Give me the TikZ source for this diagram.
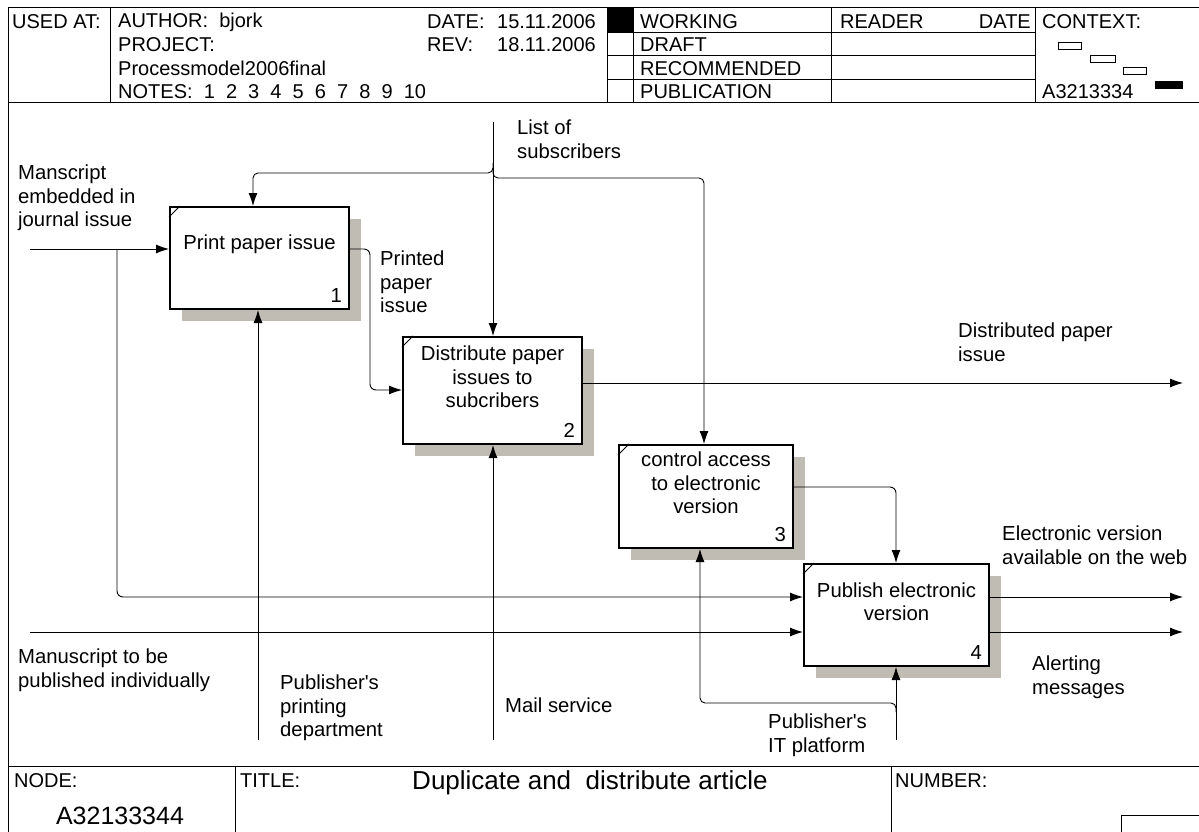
\documentclass[tikz,border=0pt]{standalone}
\usepackage{fontspec}
\setmainfont{Liberation Sans}
\usepackage{tikz}
\usetikzlibrary{positioning, arrows.meta, shadows}

\definecolor{shadowgray}{RGB}{192,188,180}

\begin{document}
\begin{tikzpicture}[
  x=1pt, y=-1pt,
  every node/.style={font=\fontsize{20.3}{23.5}\selectfont, inner sep=0pt},
  activity/.style={
    rectangle, draw, line width=2pt, fill=white,
    anchor=north west,
    drop shadow={shadow xshift=12pt, shadow yshift=-12pt, fill=shadowgray, opacity=1}
  },
  boxtext/.style={align=center},
  boxnum/.style={anchor=south east},
  lbl/.style={align=left, anchor=west},
  hdr/.style={font=\fontsize{20}{24}\selectfont, anchor=west},
  flow/.style={line width=0.9pt, -{Latex[length=13pt,width=9pt]}},
  frame/.style={line width=1pt}
]
\useasboundingbox (0,0) rectangle (1199,832);

% cornice
\draw[frame] (8,840) -- (8,8) -- (1210,8);
\draw[frame] (8,103) -- (1210,103);
\draw[frame] (8,766) -- (1210,766);
\foreach \x in {110,607,633,831,1035} \draw[frame] (\x,8) -- (\x,103);
\foreach \y in {33,56,80} \draw[frame] (607,\y) -- (1035,\y);
\fill (607,8) rectangle (633,33);
\foreach \x in {235,891} \draw[frame] (\x,766) -- (\x,840);
\draw[frame] (1121,840) |- (1210,815);

% intestazione
\node[hdr] (usedat) at (12,22) {USED AT:};
\node[hdr] (author) at (118,22) {AUTHOR:\ \ bjork};
\node[hdr] (project) at (118,45) {PROJECT:};
\node[hdr] (projname) at (118,68.5) {Processmodel2006final};
\node[hdr] (notes) at (118,92) {NOTES:\ \ 1\ \ 2\ \ 3\ \ 4\ \ 5\ \ 6\ \ 7\ \ 8\ \ 9\ \ 10};
\node[hdr] (datelbl) at (427,22) {DATE:};
\node[hdr, anchor=east] (dateval) at (596,22) {15.11.2006};
\node[hdr] (revlbl) at (427,45) {REV:};
\node[hdr, anchor=east] (revval) at (596,45) {18.11.2006};
\node[hdr] (working) at (640,22) {WORKING};
\node[hdr] (draft) at (640,45) {DRAFT};
\node[hdr] (recommended) at (640,68.5) {RECOMMENDED};
\node[hdr] (publication) at (640,92) {PUBLICATION};
\node[hdr] (reader) at (840,22) {READER};
\node[hdr, anchor=east] (readdate) at (1031,22) {DATE};
\node[hdr] (context) at (1042,22) {CONTEXT:};
\node[hdr] (ctxnode) at (1042,92) {A3213334};
\draw[line width=0.8pt] (1058,42) rectangle (1081,49);
\draw[line width=0.8pt] (1090,55) rectangle (1115,62);
\draw[line width=0.8pt] (1123,67) rectangle (1146,74);
\fill (1155,81) rectangle (1183,89);

% attivita
\node[activity, minimum width=179pt, minimum height=102pt] (b1) at (169,206) {};
\node[activity, minimum width=179pt, minimum height=107pt] (b2) at (402,336) {};
\node[activity, minimum width=174pt, minimum height=103pt] (b3) at (618,444) {};
\node[activity, minimum width=185pt, minimum height=102pt] (b4) at (803,563) {};
\foreach \b in {b1,b2,b3,b4}
  \draw[line width=1pt] ([yshift=-11pt]\b.north west) -- ([xshift=11pt]\b.north west);

\node[boxtext] (t1) at ([yshift=13.5pt]b1.center) {Print paper issue};
\node[boxtext] (t2) at ([yshift=13.5pt]b2.center) {Distribute paper\\issues to\\subcribers};
\node[boxtext] (t3) at ([yshift=13.5pt]b3.center) {control access\\to electronic\\version};
\node[boxtext] (t4) at ([yshift=13.5pt]b4.center) {Publish electronic\\version};
\node[boxnum] (n1) at ([xshift=-8pt,yshift=7pt]b1.south east) {1};
\node[boxnum] (n2) at ([xshift=-8pt,yshift=7pt]b2.south east) {2};
\node[boxnum] (n3) at ([xshift=-8pt,yshift=7pt]b3.south east) {3};
\node[boxnum] (n4) at ([xshift=-8pt,yshift=7pt]b4.south east) {4};

% estremi liberi delle frecce
\coordinate (src1) at (30,249);
\coordinate (fork1) at (117,249);
\coordinate (src4) at (30,632);
\coordinate (ctl) at (493,122);
\coordinate (f2) at (493,163);
\coordinate (k1) at (253,173);
\coordinate (f3) at (493,168);
\coordinate (k3) at (704,178);
\coordinate (j12) at (370,390);
\coordinate (k34) at (896,487);
\coordinate (out2) at (1183,383);
\coordinate (out4a) at (1183,597);
\coordinate (out4b) at (1183,632);
\coordinate (m1) at (258,740);
\coordinate (m2) at (493,740);
\coordinate (m4) at (896,740);
\coordinate (f4) at (896,712);
\coordinate (k4) at (700,703);

% frecce
\draw[flow] (src1) -- (src1 -| b1.west);
\draw[flow, rounded corners=6] (fork1) |- ([yshift=-34pt]b4.north west);
\draw[flow] (src4) -- (src4 -| b4.west);
\draw[flow] (ctl) -- (ctl |- b2.north);
\draw[flow, rounded corners=5] (f2) |- (k1) -- (k1 |- b1.north);
\draw[flow, rounded corners=5] (f3) |- (k3) -- (k3 |- b3.north);
\draw[flow, rounded corners=6] (b1.east |- src1) -| (j12) -- (j12 -| b2.west);
\draw[flow, rounded corners=6] (b3.east |- k34) -| (k34 |- b4.north);
\draw[flow] (b2.east |- out2) -- (out2);
\draw[flow] (b4.east |- out4a) -- (out4a);
\draw[flow] (b4.east |- out4b) -- (out4b);
\draw[flow] (m1) -- (m1 |- b1.south);
\draw[flow] (m2) -- (m2 |- b2.south);
\draw[flow] (m4) -- (m4 |- b4.south);
\draw[flow, rounded corners=5] (f4) |- (k4) -- (k4 |- b3.south);

% etichette
\node[lbl] (lin1) at (18,198) {Manscript\\embedded in\\journal issue};
\node[lbl] (lin4) at (18,670) {Manuscript to be\\published individually};
\node[lbl] (lctl) at (517,139) {List of\\subscribers};
\node[lbl] (lprinted) at (380,282) {Printed\\paper\\issue};
\node[lbl] (lout2) at (958,342) {Distributed paper\\issue};
\node[lbl] (lout4a) at (1002,545) {Electronic version\\available on the web};
\node[lbl] (lout4b) at (1032,677) {Alerting\\messages};
\node[lbl] (lm1) at (280,708) {Publisher\textquotesingle s\\printing\\department};
\node[lbl] (lm2) at (505,705) {Mail service};
\node[lbl] (lm4) at (768,735) {Publisher\textquotesingle s\\IT platform};

% piede
\node[hdr] (nodelbl) at (14,781) {NODE:};
\node[font=\fontsize{25}{28}\selectfont] (nodenum) at (120,816) {A32133344};
\node[hdr] (titlelbl) at (240,781) {TITLE:};
\node[font=\fontsize{26}{28}\selectfont] (title) at (590,783) {Duplicate and\ \ distribute article};
\node[hdr] (numlbl) at (895,781) {NUMBER:};
\end{tikzpicture}
\end{document}
